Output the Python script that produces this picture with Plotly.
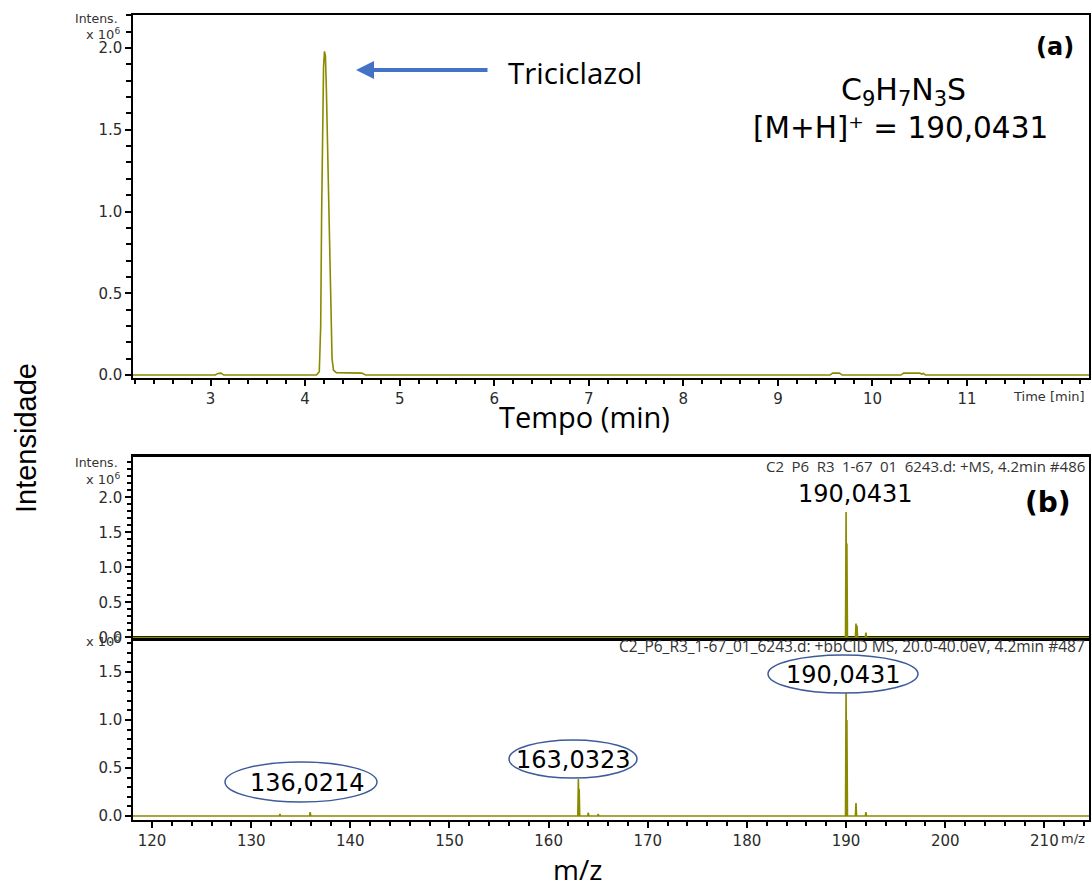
import plotly.graph_objects as go

W, H = 1091, 888

# ---------------- data ----------------
# (a) chromatogram: time (min) vs intensity (x10^6)
chrom_time = [2.18, 3.05, 3.08, 3.11, 3.14, 4.12, 4.15, 4.165, 4.175, 4.185, 4.195,
              4.205, 4.215, 4.225, 4.24, 4.255, 4.27, 4.285, 4.30, 4.33, 4.60, 4.62,
              4.64, 9.55, 9.58, 9.65, 9.68, 10.30, 10.33, 10.50, 10.52, 10.54, 10.56, 12.29]
chrom_int = [0.0, 0.0, 0.01, 0.012, 0.0, 0.0, 0.02, 0.3, 1.0, 1.6, 1.88,
             1.98, 1.95, 1.75, 1.3, 0.8, 0.35, 0.1, 0.03, 0.015, 0.012, 0.005,
             0.0, 0.0, 0.012, 0.012, 0.0, 0.0, 0.012, 0.012, 0.006, 0.01, 0.0, 0.0]

# (b) MS spectrum (+MS, #486): m/z vs intensity (x10^6)
ms1_mz = [190.0, 190.08, 191.0, 191.1, 192.0]
ms1_int = [1.79, 1.34, 0.20, 0.17, 0.07]

# (b) bbCID spectrum (#487)
ms2_mz = [132.9, 135.95, 163.0, 163.08, 164.0, 165.0, 190.0, 190.08, 191.0, 192.0]
ms2_int = [0.02, 0.04, 0.385, 0.28, 0.035, 0.02, 1.32, 1.0, 0.135, 0.04]

time_ticks = [3, 4, 5, 6, 7, 8, 9, 10, 11]
mz_ticks = [120, 130, 140, 150, 160, 170, 180, 190, 200, 210]
int_ticks_a = [0.0, 0.5, 1.0, 1.5, 2.0]
int_ticks_b1 = [0.0, 0.5, 1.0, 1.5, 2.0]
int_ticks_b2 = [0.0, 0.5, 1.0, 1.5]

MZ_RANGE = [118.08, 214.5]

# ---------------- helpers ----------------
def X(px):
    return px / W

def Y(py):
    return 1 - py / H

def sticks(mz, inten, lo, hi, half=0.06):
    xs, ys = [lo], [0.0]
    for m, v in sorted(zip(mz, inten)):
        xs += [m - half, m, m + half]
        ys += [0.0, v, 0.0]
    xs.append(hi)
    ys.append(0.0)
    return xs, ys

OLIVE = "#8a8a00"
DV = "DejaVu Sans"
TICKFONT = dict(family=DV, size=15, color="#2b2b2b")

fig = go.Figure()

fig.add_trace(go.Scatter(x=chrom_time, y=chrom_int, mode="lines",
                         line=dict(color=OLIVE, width=1.6), xaxis="x", yaxis="y",
                         showlegend=False, hoverinfo="skip"))

sx1, sy1 = sticks(ms1_mz, ms1_int, MZ_RANGE[0], MZ_RANGE[1])
fig.add_trace(go.Scatter(x=sx1, y=sy1, mode="lines", line=dict(color=OLIVE, width=1.6),
                         xaxis="x3", yaxis="y2", showlegend=False, hoverinfo="skip"))

sx2, sy2 = sticks(ms2_mz, ms2_int, MZ_RANGE[0], MZ_RANGE[1])
fig.add_trace(go.Scatter(x=sx2, y=sy2, mode="lines", line=dict(color=OLIVE, width=1.6),
                         xaxis="x2", yaxis="y3", showlegend=False, hoverinfo="skip"))

common_axis = dict(showline=True, linecolor="black", mirror=True, showgrid=False,
                   zeroline=False, ticks="outside", tickcolor="black", automargin=False,
                   tickfont=TICKFONT)

fig.update_layout(
    width=W, height=H, margin=dict(l=0, r=0, t=0, b=0),
    paper_bgcolor="white", plot_bgcolor="white",
    xaxis=dict(common_axis, domain=[X(133), X(1089)], range=[2.18, 12.29], anchor="y",
               tickvals=time_ticks, ticklen=6, tickwidth=1.5, linewidth=1.5,
               minor=dict(dtick=0.2, tick0=0, ticks="outside", ticklen=4, tickcolor="black")),
    yaxis=dict(common_axis, domain=[Y(378), Y(15)], range=[-0.018, 2.202], anchor="x",
               tickvals=int_ticks_a, tickformat=".1f", ticklen=6, tickwidth=1.5, linewidth=1.5,
               minor=dict(dtick=0.1, tick0=0, ticks="outside", ticklen=5, tickcolor="black")),
    xaxis2=dict(common_axis, domain=[X(133), X(1089)], range=MZ_RANGE, anchor="y3",
                tickvals=mz_ticks, ticktext=[str(v) for v in mz_ticks], ticklen=6,
                tickwidth=1.5, linewidth=1.5,
                minor=dict(dtick=2, tick0=0, ticks="outside", ticklen=4, tickcolor="black")),
    yaxis2=dict(common_axis, domain=[Y(638), Y(457)], range=[-0.008, 2.577], anchor="x3",
                tickvals=int_ticks_b1, tickformat=".1f", ticklen=6, tickwidth=1.5,
                linewidth=1.5,
                minor=dict(dtick=0.1, tick0=0, ticks="outside", ticklen=4, tickcolor="black")),
    xaxis3=dict(domain=[X(133), X(1089)], range=MZ_RANGE, anchor="y2", matches="x2",
                showline=True, linecolor="black", linewidth=3, mirror=True, ticks="",
                showticklabels=False, showgrid=False, zeroline=False, automargin=False),
    yaxis3=dict(common_axis, domain=[Y(820), Y(638)], range=[-0.042, 1.854], anchor="x2",
                tickvals=int_ticks_b2, tickformat=".1f", ticklen=6, tickwidth=1.5,
                linewidth=1.5,
                minor=dict(dtick=0.1, tick0=0, ticks="outside", ticklen=4, tickcolor="black")),
)

ann = []
def text(px, py, t, size, family=DV, color="black", xanchor="center",
         yanchor="middle"):
    ann.append(dict(x=X(px), y=Y(py), xref="paper", yref="paper", text=t, showarrow=False,
                    font=dict(family=family, size=size, color=color),
                    xanchor=xanchor, yanchor=yanchor))

GREY = "#333333"
# axis labels in axis corners
text(120, 18, "Intens.", 12.5, DV, GREY, xanchor="right")
text(122, 34, "x 10<sup>6</sup>", 13, DV, GREY, xanchor="right")
text(120, 463, "Intens.", 12.5, DV, GREY, xanchor="right")
text(122, 479, "x 10<sup>6</sup>", 13, DV, GREY, xanchor="right")
text(122, 641, "x 10<sup>6</sup>", 13, DV, GREY, xanchor="right")
text(1087, 397, "Time [min]", 13, DV, GREY, xanchor="right")
text(1087, 838, "m/z", 13, DV, GREY, xanchor="right")

# big titles
text(26, 438, "Intensidade", 29, "Liberation Sans, Arial")
ann[-1]["textangle"] = -90
text(585, 417, "Tempo (min)", 29, "Open Sans")
text(577, 869, "m/z", 28, "Open Sans")

# (a) annotations
text(1055, 47, "<b>(a)</b>", 24)
text(903, 91, "C<sub>9</sub>H<sub>7</sub>N<sub>3</sub>S", 30)
text(900, 128, "[M+H]\u207a = 190,0431", 29.5)
text(575, 72, "Triciclazol", 29.5, "Open Sans")
ann.append(dict(x=X(356), y=Y(70), xref="paper", yref="paper", text="", showarrow=True,
                ax=133, ay=0, arrowhead=2, arrowsize=0.9, arrowwidth=4,
                arrowcolor="#4472C4"))

# (b) annotations
text(1048, 502, "<b>(b)</b>", 28)
sp = "\u2002"
text(1087, 466, f"C2{sp}P6{sp}R3{sp}1-67{sp}01{sp}6243.d: +MS, 4.2min #486", 15, "Open Sans",
     GREY, xanchor="right")
text(1087, 646, "C2_P6_R3_1-67_01_6243.d: +bbCID MS, 20.0-40.0eV, 4.2min #487", 15.5,
     "Open Sans", GREY, xanchor="right")
text(855, 494, "190,0431", 24)

# ellipses with labels
ELL = [(301, 782, 152, 40, "136,0214"), (573, 759, 128, 38, "163,0323"),
       (843, 674, 150, 38, "190,0431")]
shapes = []
for cx, cy, w, h, lab in ELL:
    shapes.append(dict(type="circle", xref="paper", yref="paper",
                       x0=X(cx - w / 2), x1=X(cx + w / 2), y0=Y(cy + h / 2), y1=Y(cy - h / 2),
                       line=dict(color="#3d5a99", width=1.5), fillcolor="white", layer="above"))
    text(cx + 6 if lab == "136,0214" else cx, cy + 1, lab, 24)

fig.update_layout(annotations=ann, shapes=shapes)

fig.write_html("out.html")
